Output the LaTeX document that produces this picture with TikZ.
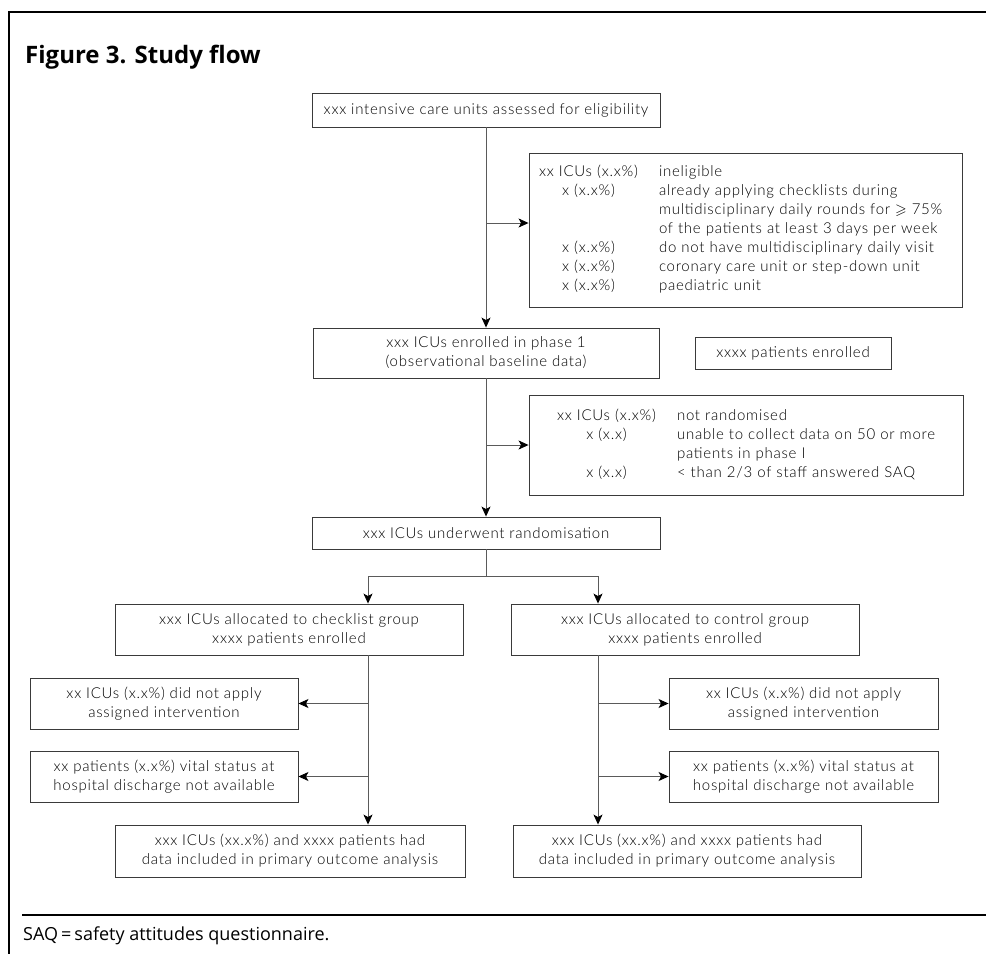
\documentclass[tikz,border=0pt]{standalone}
\usepackage{fontspec}
\usepackage{amssymb}
\usepackage{array}
\setmainfont{Lato Light}[LetterSpace=5]
\newfontfamily\headfont{Open Sans}
\usetikzlibrary{arrows.meta}
\definecolor{boxgrey}{HTML}{3A3A3A}
\definecolor{linegrey}{HTML}{5A5A5A}
\tikzset{
  flowbox/.style={rectangle, draw=boxgrey, line width=0.9pt, align=center,
                  font=\fontsize{15}{19}\selectfont, inner sep=0pt},
  listbox/.style={rectangle, draw=boxgrey, line width=0.9pt, align=left,
                  font=\fontsize{15}{19}\selectfont, inner ysep=0pt},
  flowarrow/.style={-{Stealth[length=10pt,width=9pt,inset=2.5pt,color=black]},
                    line width=0.9pt, draw=linegrey},
  flowline/.style={line width=0.9pt, draw=linegrey},
  frame/.style={line width=2pt, draw=black},
}
\newcolumntype{C}{w{c}{97pt}}

\begin{document}
\begin{tikzpicture}[x=1pt,y=-1pt]
  \useasboundingbox (0,0) rectangle (986,954);
  % frame and rules
  \draw[frame] (986,12) -- (9,12) -- (9,954);
  \draw[frame] (22,915) -- (986,915);
  \node[anchor=base west, inner sep=0pt, font=\headfont\bfseries\fontsize{24}{28}\selectfont] (title) at (25,63) {Figure 3. Study flow};

  % eligibility
  \node[flowbox, minimum width=348pt, minimum height=34pt] (assess) at (486,110) {xxx intensive care units assessed for eligibility};
  \node[listbox, text width=411pt, inner xsep=11pt, minimum height=154pt] (inelig) at (745.5,230) {%
    \begin{tabular}{@{}C@{\hspace{22pt}}l@{}}
      xx ICUs (x.x\%) & ineligible\\
      x (x.x\%) & already applying checklists during\\
       & multidisciplinary daily rounds for $\geqslant$ 75\%\\
       & of the patients at least 3 days per week\\
      x (x.x\%) & do not have multidisciplinary daily visit\\
      x (x.x\%) & coronary care unit or step-down unit\\
      x (x.x\%) & paediatric unit
    \end{tabular}};

  % phase 1
  \node[flowbox, minimum width=346pt, minimum height=50pt] (phase1) at (486,353) {xxx ICUs enrolled in phase 1\\(observational baseline data)};
  \node[flowbox, minimum width=196pt, minimum height=32pt] (enrolled) at (793,353) {xxxx patients enrolled};
  \node[listbox, text width=376pt, inner xsep=29pt, minimum height=100pt] (notrand) at (746,445) {%
    \begin{tabular}{@{}C@{\hspace{22pt}}l@{}}
      xx ICUs (x.x\%) & not randomised\\
      x (x.x) & unable to collect data on 50 or more\\
       & patients in phase I\\
      x (x.x) & < than 2/3 of staff answered SAQ
    \end{tabular}};

  % randomisation
  \node[flowbox, minimum width=348pt, minimum height=32pt] (rand) at (486,533) {xxx ICUs underwent randomisation};
  \coordinate (split) at (486,576);
  \coordinate (lspine) at (368,0);
  \coordinate (rspine) at (598,0);

  % checklist arm
  \node[flowbox, minimum width=348pt, minimum height=51pt] (check) at (289,629.5) {xxx ICUs allocated to checklist group\\xxxx patients enrolled};
  \node[flowbox, minimum width=268pt, minimum height=51pt] (lnoapply) at (164,703.5) {xx ICUs (x.x\%) did not apply\\assigned intervention};
  \node[flowbox, minimum width=268pt, minimum height=51pt] (lvital) at (164,776.5) {xx patients (x.x\%) vital status at\\hospital discharge not available};
  \node[flowbox, minimum width=350pt, minimum height=52pt] (lfinal) at (290,851) {xxx ICUs (xx.x\%) and xxxx patients had\\data included in primary outcome analysis};

  % control arm
  \node[flowbox, minimum width=348pt, minimum height=51pt] (ctrl) at (685,629.5) {xxx ICUs allocated to control group\\xxxx patients enrolled};
  \node[flowbox, minimum width=269pt, minimum height=51pt] (rnoapply) at (803.5,703.5) {xx ICUs (x.x\%) did not apply\\assigned intervention};
  \node[flowbox, minimum width=269pt, minimum height=51pt] (rvital) at (803.5,776.5) {xx patients (x.x\%) vital status at\\hospital discharge not available};
  \node[flowbox, minimum width=348pt, minimum height=52pt] (rfinal) at (687,851) {xxx ICUs (xx.x\%) and xxxx patients had\\data included in primary outcome analysis};

  % connectors
  \coordinate (inelig-in) at ([yshift=7pt]inelig.west);
  \draw[flowarrow] (assess) -- (phase1);
  \draw[flowarrow] (assess.south |- inelig-in) -- (inelig-in);
  \draw[flowarrow] (phase1) -- (rand);
  \draw[flowarrow] (phase1.south |- notrand.west) -- (notrand.west);
  \draw[flowline] (rand) -- (split);
  \draw[flowarrow] (split) -| (lspine |- check.north);
  \draw[flowarrow] (split) -| (rspine |- ctrl.north);
  \draw[flowarrow] (lspine |- check.south) -- (lspine |- lfinal.north);
  \draw[flowarrow] (rspine |- ctrl.south) -- (rspine |- rfinal.north);
  \draw[flowarrow] (lspine |- lnoapply.east) -- (lnoapply.east);
  \draw[flowarrow] (lspine |- lvital.east) -- (lvital.east);
  \draw[flowarrow] (rspine |- rnoapply.west) -- (rnoapply.west);
  \draw[flowarrow] (rspine |- rvital.west) -- (rvital.west);

  % footnote
  \node[anchor=base west, inner sep=0pt, font=\headfont\fontsize{18}{21}\selectfont] (note) at (23,940) {SAQ\,=\,safety attitudes questionnaire.};
\end{tikzpicture}
\end{document}
